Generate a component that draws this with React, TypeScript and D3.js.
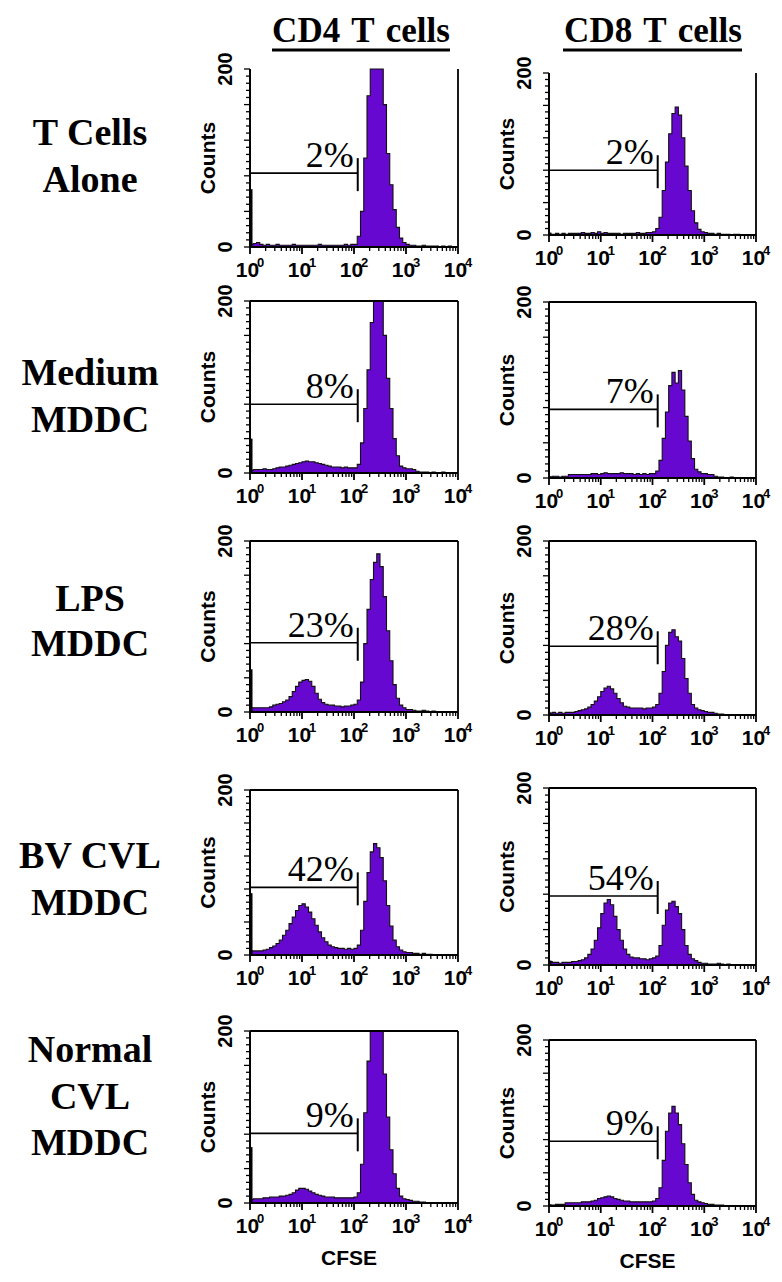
import React, { useEffect } from "react";
import * as d3 from "d3";

// ---------- DATA ----------
// Histogram counts, 64 bins per panel; bin i spans 10^(i/16) .. 10^((i+1)/16) on the CFSE axis.
const cd4Alone = [
  3, 4, 5, 3, 2, 3, 2, 2, 3, 2, 2, 2, 2, 3, 2, 2,
  2, 2, 2, 2, 2, 3, 2, 2, 2, 2, 2, 2, 2, 3, 2, 3,
  3, 12, 40, 100, 170, 215, 240, 235, 210, 160, 105, 70, 42, 22, 10, 5,
  3, 2, 2, 1, 1, 2, 1, 1, 1, 1, 0, 1, 0, 1, 0, 0,
];
const cd8Alone = [
  1, 1, 2, 1, 2, 1, 2, 2, 2, 2, 3, 2, 2, 3, 2, 4,
  2, 3, 2, 2, 2, 2, 1, 2, 2, 2, 2, 3, 2, 2, 3, 3,
  4, 8, 22, 55, 90, 125, 150, 158, 148, 120, 85, 55, 30, 15, 7, 4,
  3, 2, 2, 1, 2, 1, 1, 1, 0, 1, 1, 0, 0, 0, 0, 0,
];
const cd4Medium = [
  3, 4, 4, 4, 5, 4, 4, 5, 6, 7, 7, 8, 9, 10, 11, 12,
  13, 14, 13, 13, 12, 11, 10, 9, 8, 7, 7, 7, 6, 7, 6, 6,
  6, 10, 35, 75, 120, 175, 215, 240, 230, 160, 110, 75, 40, 20, 8, 6,
  5, 5, 4, 2, 1, 1, 1, 0, 1, 0, 0, 1, 0, 0, 0, 0,
];
const cd8Medium = [
  1, 2, 2, 1, 2, 2, 4, 4, 4, 4, 4, 4, 4, 5, 5, 4,
  5, 6, 5, 5, 5, 5, 6, 5, 5, 5, 4, 5, 4, 5, 4, 5,
  5, 8, 20, 45, 75, 105, 120, 108, 122, 100, 70, 42, 22, 10, 7, 5,
  5, 4, 4, 2, 1, 1, 0, 0, 1, 0, 0, 0, 0, 0, 0, 0,
];
const cd4Lps = [
  5, 5, 5, 5, 5, 5, 6, 8, 9, 10, 12, 14, 18, 24, 30, 35,
  37, 38, 36, 30, 22, 15, 11, 9, 8, 8, 7, 7, 6, 7, 7, 8,
  9, 14, 35, 80, 120, 155, 175, 185, 170, 135, 95, 60, 32, 16, 8, 5,
  3, 3, 2, 1, 1, 2, 1, 0, 1, 0, 0, 0, 0, 0, 0, 0,
];
const cd8Lps = [
  2, 3, 2, 3, 2, 3, 3, 3, 4, 5, 6, 7, 9, 12, 16, 21,
  27, 31, 33, 30, 25, 19, 14, 10, 9, 8, 8, 8, 8, 7, 8, 8,
  9, 12, 25, 50, 80, 95, 98, 90, 85, 65, 42, 25, 12, 8, 6, 5,
  4, 3, 3, 2, 1, 1, 0, 0, 0, 0, 0, 0, 0, 0, 0, 0,
];
const cd4Bv = [
  5, 5, 5, 5, 6, 7, 9, 11, 14, 18, 24, 30, 38, 46, 54, 60,
  62, 58, 52, 44, 36, 28, 21, 16, 12, 10, 9, 8, 8, 7, 8, 7,
  8, 12, 30, 65, 100, 125, 135, 130, 118, 90, 60, 35, 18, 10, 6, 4,
  3, 3, 2, 2, 1, 2, 1, 1, 0, 0, 0, 0, 0, 0, 0, 0,
];
const cd8Bv = [
  4, 3, 3, 2, 3, 3, 3, 4, 4, 5, 6, 8, 12, 18, 28, 42,
  58, 70, 74, 68, 55, 40, 28, 18, 12, 9, 8, 8, 7, 7, 6, 7,
  8, 10, 22, 45, 62, 70, 72, 66, 58, 40, 22, 12, 7, 5, 3, 2,
  2, 1, 1, 1, 2, 1, 0, 1, 0, 0, 0, 0, 0, 0, 0, 0,
];
const cd4Normal = [
  4, 5, 5, 5, 6, 6, 7, 7, 7, 8, 8, 9, 10, 12, 15, 17,
  17, 16, 14, 12, 10, 9, 8, 7, 7, 7, 6, 6, 6, 6, 6, 6,
  7, 12, 45, 105, 165, 205, 235, 238, 210, 150, 100, 62, 34, 17, 8, 5,
  4, 3, 2, 2, 1, 1, 0, 0, 0, 0, 0, 0, 0, 0, 0, 0,
];
const cd8Normal = [
  1, 1, 2, 2, 2, 4, 4, 4, 4, 4, 5, 5, 5, 6, 7, 9,
  10, 11, 12, 11, 9, 8, 7, 6, 6, 5, 5, 5, 5, 5, 5, 5,
  6, 9, 22, 55, 90, 112, 120, 112, 98, 75, 50, 28, 14, 7, 5, 4,
  3, 2, 2, 1, 1, 1, 0, 0, 0, 0, 0, 0, 0, 0, 0, 0,
];

const rowLabels = [
  ["T Cells", "Alone"],
  ["Medium", "MDDC"],
  ["LPS", "MDDC"],
  ["BV CVL", "MDDC"],
  ["Normal", "CVL", "MDDC"],
];
const columnTitles = ["CD4 T cells", "CD8 T cells"];
const cd4Series = [cd4Alone, cd4Medium, cd4Lps, cd4Bv, cd4Normal];
const cd8Series = [cd8Alone, cd8Medium, cd8Lps, cd8Bv, cd8Normal];
const cd4Spike = [65, 40, 50, 75, 65]; // counts piled in the first channel
const cd8Spike = [3, 2, 3, 5, 2];
const cd4Pct = ["2%", "8%", "23%", "42%", "9%"];
const cd8Pct = ["2%", "7%", "28%", "54%", "9%"];
const cd4GateLevel = [83, 80, 81, 82, 81];
const cd8GateLevel = [80, 78, 79, 78, 78];
const cd4GateEnd = 118;
const cd8GateEnd = 126;
const xDecades = [0, 1, 2, 3, 4];
const yMax = 200;
const xTitle = "CFSE";
const yTitle = "Counts";

// ---------- LAYOUT ----------
const W = 782;
const H = 1282;
const colX = [
  [250, 458],
  [549, 756],
];
const rowY = [
  [[69, 247], [73, 235]],
  [[301, 473], [302, 478]],
  [[541, 712], [541, 715]],
  [[790, 955], [788, 965]],
  [[1031, 1203], [1040, 1206]],
];
const rowLabelBaselines = [
  [145, 192],
  [385, 432],
  [611, 656],
  [868, 915],
  [1062, 1109, 1155],
];
const FILL = "#6608cf";
const SANS = "'Liberation Sans', Arial, sans-serif";
const SERIF = "'Liberation Serif', 'Times New Roman', serif";

type PanelProps = {
  x0: number;
  x1: number;
  top: number;
  bottom: number;
  counts: number[];
  spike: number;
  gateLevel: number;
  gateEnd: number;
  pct: string;
  showTop: boolean;
  showXTitle: boolean;
};

function Panel({ x0, x1, top, bottom, counts, spike, gateLevel, gateEnd, pct, showTop, showXTitle }: PanelProps) {
  const xs = d3.scaleLog().domain([1, 1e4]).range([x0, x1]);
  const ys = d3.scaleLinear().domain([0, yMax]).range([bottom, top]).clamp(true);
  const nb = counts.length;
  const pts = counts.map((c, i) => ({ x: Math.pow(10, (4 * i) / nb), c }));
  pts.push({ x: 1e4, c: counts[nb - 1] });
  const area = d3
    .area<{ x: number; c: number }>()
    .x((d) => xs(d.x))
    .y0(ys(0))
    .y1((d) => ys(d.c))
    .curve(d3.curveStepAfter);
  const line = d3
    .line<{ x: number; c: number }>()
    .x((d) => xs(d.x))
    .y((d) => ys(d.c))
    .curve(d3.curveStepAfter);

  const minorX: number[] = [];
  for (let d = 0; d < 4; d++) for (let m = 2; m <= 9; m++) minorX.push(m * Math.pow(10, d));
  const yTicks = d3.range(0, yMax + 1, 8);
  const gy = ys(gateLevel);
  const gx = xs(gateEnd);

  return (
    <g>
      <path d={area(pts) || ""} fill={FILL} />
      <path d={line(pts) || ""} fill="none" stroke="#111" strokeWidth={1.1} />
      <line x1={xs(1) + 1.5} x2={xs(1) + 1.5} y1={ys(0)} y2={ys(spike)} stroke="#000" strokeWidth={2} />
      {/* frame */}
      <line x1={x0} x2={x0} y1={top} y2={bottom + 1} stroke="#000" strokeWidth={2} />
      <line x1={x0} x2={x1} y1={bottom} y2={bottom} stroke="#000" strokeWidth={2} />
      <line x1={x1} x2={x1} y1={top} y2={bottom} stroke="#000" strokeWidth={1.8} />
      {showTop && <line x1={x0} x2={x1} y1={top} y2={top} stroke="#000" strokeWidth={1.8} />}
      {/* y ticks */}
      {yTicks.map((t) => (
        <line key={"y" + t} x1={x0} x2={x0 - (t % 40 === 0 ? 6 : 4)} y1={ys(t)} y2={ys(t)} stroke="#000" strokeWidth={1.3} />
      ))}
      {/* x ticks */}
      {minorX.map((t) => (
        <line key={"mx" + t} x1={xs(t)} x2={xs(t)} y1={bottom} y2={bottom + 4} stroke="#000" strokeWidth={1.3} />
      ))}
      {xDecades.map((d) => (
        <line key={"Mx" + d} x1={xs(Math.pow(10, d))} x2={xs(Math.pow(10, d))} y1={bottom} y2={bottom + 7} stroke="#000" strokeWidth={1.8} />
      ))}
      {xDecades.map((d) => (
        <text key={"lx" + d} x={xs(Math.pow(10, d))} y={bottom + 30} textAnchor="middle" fontFamily={SANS} fontWeight="bold" fontSize={21}>
          10
          <tspan dx={-2} dy={-10} fontSize={13}>
            {d}
          </tspan>
        </text>
      ))}
      {/* y labels */}
      <text transform={`translate(${x0 - 25},${top}) rotate(-90)`} textAnchor="middle" dominantBaseline="central" fontFamily={SANS} fontWeight="bold" fontSize={20}>
        {yMax}
      </text>
      <text transform={`translate(${x0 - 25},${bottom}) rotate(-90)`} textAnchor="middle" dominantBaseline="central" fontFamily={SANS} fontWeight="bold" fontSize={20}>
        0
      </text>
      <text transform={`translate(${x0 - 43},${(top + bottom) / 2}) rotate(-90)`} textAnchor="middle" dominantBaseline="central" fontFamily={SANS} fontWeight="bold" fontSize={21}>
        {yTitle}
      </text>
      {/* gate */}
      <line x1={xs(1)} x2={gx} y1={gy} y2={gy} stroke="#000" strokeWidth={1.6} />
      <line x1={gx} x2={gx} y1={gy - 15} y2={gy + 18} stroke="#000" strokeWidth={2} />
      <text x={gx - 4} y={gy - 6} textAnchor="end" fontFamily={SERIF} fontSize={36}>
        {pct}
      </text>
      {showXTitle && (
        <text x={(x0 + x1) / 2 - 5} y={bottom + 62} textAnchor="middle" fontFamily={SANS} fontWeight="bold" fontSize={21}>
          {xTitle}
        </text>
      )}
    </g>
  );
}

export default function App() {
  useEffect(() => {
    document.body.style.margin = "0";
  }, []);
  const headerCenters = [361, 653];
  const underline = [
    [272, 450],
    [563, 742],
  ];
  return (
    <svg width={W} height={H} style={{ position: "absolute", left: 0, top: 0, background: "#fff" }}>
      <rect x={0} y={0} width={W} height={H} fill="#fff" />
      {columnTitles.map((t, i) => (
        <g key={t}>
          <text x={headerCenters[i]} y={42} textAnchor="middle" fontFamily={SERIF} fontWeight="bold" fontSize={35} wordSpacing={3}>
            {t}
          </text>
          <line x1={underline[i][0]} x2={underline[i][1]} y1={50} y2={50} stroke="#000" strokeWidth={3} />
        </g>
      ))}
      {rowLabels.map((lines, r) => (
        <g key={"rl" + r}>
          {lines.map((s, k) => (
            <text key={s + k} x={90} y={rowLabelBaselines[r][k]} textAnchor="middle" fontFamily={SERIF} fontWeight="bold" fontSize={38}>
              {s}
            </text>
          ))}
        </g>
      ))}
      {rowY.map((ry, r) => (
        <g key={"row" + r}>
          <Panel
            x0={colX[0][0]}
            x1={colX[0][1]}
            top={ry[0][0]}
            bottom={ry[0][1]}
            counts={cd4Series[r]}
            spike={cd4Spike[r]}
            gateLevel={cd4GateLevel[r]}
            gateEnd={cd4GateEnd}
            pct={cd4Pct[r]}
            showTop={r > 0}
            showXTitle={r === rowY.length - 1}
          />
          <Panel
            x0={colX[1][0]}
            x1={colX[1][1]}
            top={ry[1][0]}
            bottom={ry[1][1]}
            counts={cd8Series[r]}
            spike={cd8Spike[r]}
            gateLevel={cd8GateLevel[r]}
            gateEnd={cd8GateEnd}
            pct={cd8Pct[r]}
            showTop={r > 0}
            showXTitle={r === rowY.length - 1}
          />
        </g>
      ))}
    </svg>
  );
}
